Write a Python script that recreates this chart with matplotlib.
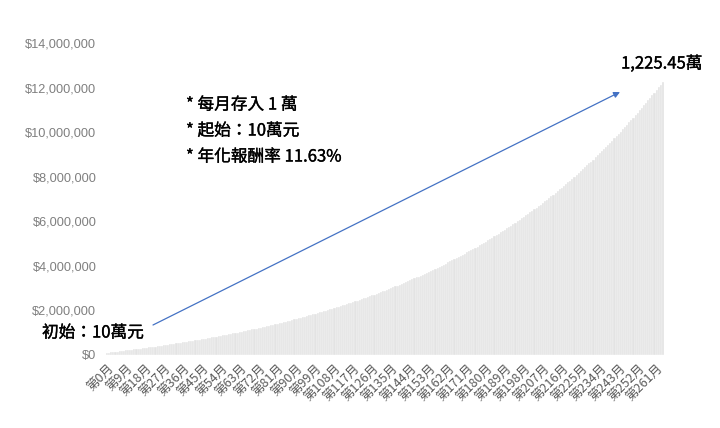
import numpy as np
import matplotlib
matplotlib.use("Agg")
import matplotlib.pyplot as plt
import matplotlib.patheffects as pe
from matplotlib.ticker import FuncFormatter

plt.rcParams['font.family'] = ['Noto Sans CJK TC', 'DejaVu Sans']

# 每月餘額（萬元），第0月 ~ 第264月，每列 12 個月
balance_wan = [
    10.0, 11.1, 12.2, 13.3, 14.4, 15.6, 16.7, 17.9, 19.0, 20.2, 21.4, 22.6,
    23.8, 25.0, 26.2, 27.5, 28.7, 30.0, 31.3, 32.6, 33.9, 35.2, 36.5, 37.8,
    39.2, 40.5, 41.9, 43.3, 44.7, 46.1, 47.5, 49.0, 50.4, 51.9, 53.4, 54.9,
    56.4, 57.9, 59.4, 61.0, 62.5, 64.1, 65.7, 67.3, 68.9, 70.6, 72.2, 73.9,
    75.6, 77.2, 79.0, 80.7, 82.4, 84.2, 86.0, 87.8, 89.6, 91.4, 93.2, 95.1,
    97.0, 98.9, 100.8, 102.7, 104.6, 106.6, 108.6, 110.6, 112.6, 114.6, 116.7, 118.8,
    120.9, 123.0, 125.1, 127.3, 129.4, 131.6, 133.8, 136.1, 138.3, 140.6, 142.9, 145.2,
    147.6, 149.9, 152.3, 154.7, 157.1, 159.6, 162.0, 164.5, 167.0, 169.6, 172.1, 174.7,
    177.3, 180.0, 182.6, 185.3, 188.0, 190.8, 193.5, 196.3, 199.1, 201.9, 204.8, 207.7,
    210.6, 213.5, 216.5, 219.5, 222.5, 225.6, 228.6, 231.7, 234.9, 238.0, 241.2, 244.5,
    247.7, 251.0, 254.3, 257.6, 261.0, 264.4, 267.9, 271.3, 274.8, 278.4, 281.9, 285.5,
    289.1, 292.8, 296.5, 300.2, 304.0, 307.8, 311.6, 315.5, 319.4, 323.4, 327.3, 331.3,
    335.4, 339.5, 343.6, 347.8, 352.0, 356.2, 360.5, 364.8, 369.2, 373.6, 378.0, 382.5,
    387.0, 391.6, 396.2, 400.9, 405.5, 410.3, 415.1, 419.9, 424.7, 429.7, 434.6, 439.6,
    444.7, 449.8, 454.9, 460.1, 465.3, 470.6, 476.0, 481.3, 486.8, 492.3, 497.8, 503.4,
    509.0, 514.7, 520.4, 526.2, 532.1, 538.0, 543.9, 549.9, 556.0, 562.1, 568.3, 574.5,
    580.8, 587.2, 593.6, 600.1, 606.6, 613.2, 619.8, 626.5, 633.3, 640.1, 647.0, 654.0,
    661.0, 668.1, 675.3, 682.5, 689.8, 697.1, 704.5, 712.0, 719.6, 727.2, 734.9, 742.7,
    750.5, 758.4, 766.4, 774.5, 782.6, 790.8, 799.1, 807.5, 815.9, 824.4, 833.0, 841.7,
    850.4, 859.3, 868.2, 877.2, 886.3, 895.4, 904.7, 914.0, 923.4, 932.9, 942.5, 952.2,
    962.0, 971.8, 981.8, 991.8, 1002.0, 1012.2, 1022.5, 1032.9, 1043.4, 1054.0, 1064.8, 1075.6,
    1086.5, 1097.5, 1108.6, 1119.8, 1131.1, 1142.5, 1154.0, 1165.7, 1177.4, 1189.3, 1201.2, 1213.3,
    1225.45,
]
months = [f"第{i}月" for i in range(len(balance_wan))]
label_step = 9

notes = ["* 每月存入 1 萬", "* 起始：10萬元", "* 年化報酬率 11.63%"]
start_text = "初始：10萬元"
end_text = "1,225.45萬"

values = np.array(balance_wan) * 10000
x = np.arange(len(values))

fig = plt.figure(figsize=(7.2, 4.28), dpi=100)
ax = fig.add_axes([106 / 720, 1 - 355 / 428, 558 / 720, 312 / 428])

ax.bar(x, values, width=1.0, color='#e3e3e3', edgecolor='white', linewidth=0.25)

ax.set_xlim(-0.5, len(values) - 0.5)
ax.set_ylim(0, 14000000)
ax.set_yticks(np.arange(0, 14000001, 2000000))
ax.yaxis.set_major_formatter(FuncFormatter(lambda v, p: f"${v:,.0f}"))
for t in ax.get_yticklabels():
    t.set_family(['Liberation Sans', 'DejaVu Sans'])
ax.tick_params(axis='y', length=0, labelsize=9.2, labelcolor='#7f7f7f', pad=7)

ax.set_xticks(x[::label_step])
ax.set_xticklabels(months[::label_step], rotation=45, ha='right',
                   rotation_mode='anchor', fontsize=9, color='#595959')
ax.tick_params(axis='x', length=0, pad=5)

for s in ax.spines.values():
    s.set_visible(False)

# 文字說明（稍微加粗）
thick = [pe.withStroke(linewidth=0.25, foreground='black')]
for i, note in enumerate(notes):
    fig.text(186 / 720, 1 - (105 + 26 * i) / 428, note, fontsize=12,
             va='center', ha='left', color='black', path_effects=thick)
fig.text(42 / 720, 1 - 333 / 428, start_text, fontsize=12,
         va='center', ha='left', color='black', path_effects=thick)
fig.text(621 / 720, 1 - 64 / 428, end_text, fontsize=12,
         va='center', ha='left', color='black', path_effects=thick)

# 箭頭
ax.annotate('', xy=(620 / 720, 1 - 92 / 428), xycoords='figure fraction',
            xytext=(153 / 720, 1 - 325 / 428), textcoords='figure fraction',
            arrowprops=dict(arrowstyle='-|>', color='#4472C4', lw=0.9,
                            mutation_scale=9, shrinkA=0, shrinkB=0))

fig.savefig("out.png", dpi=100)
